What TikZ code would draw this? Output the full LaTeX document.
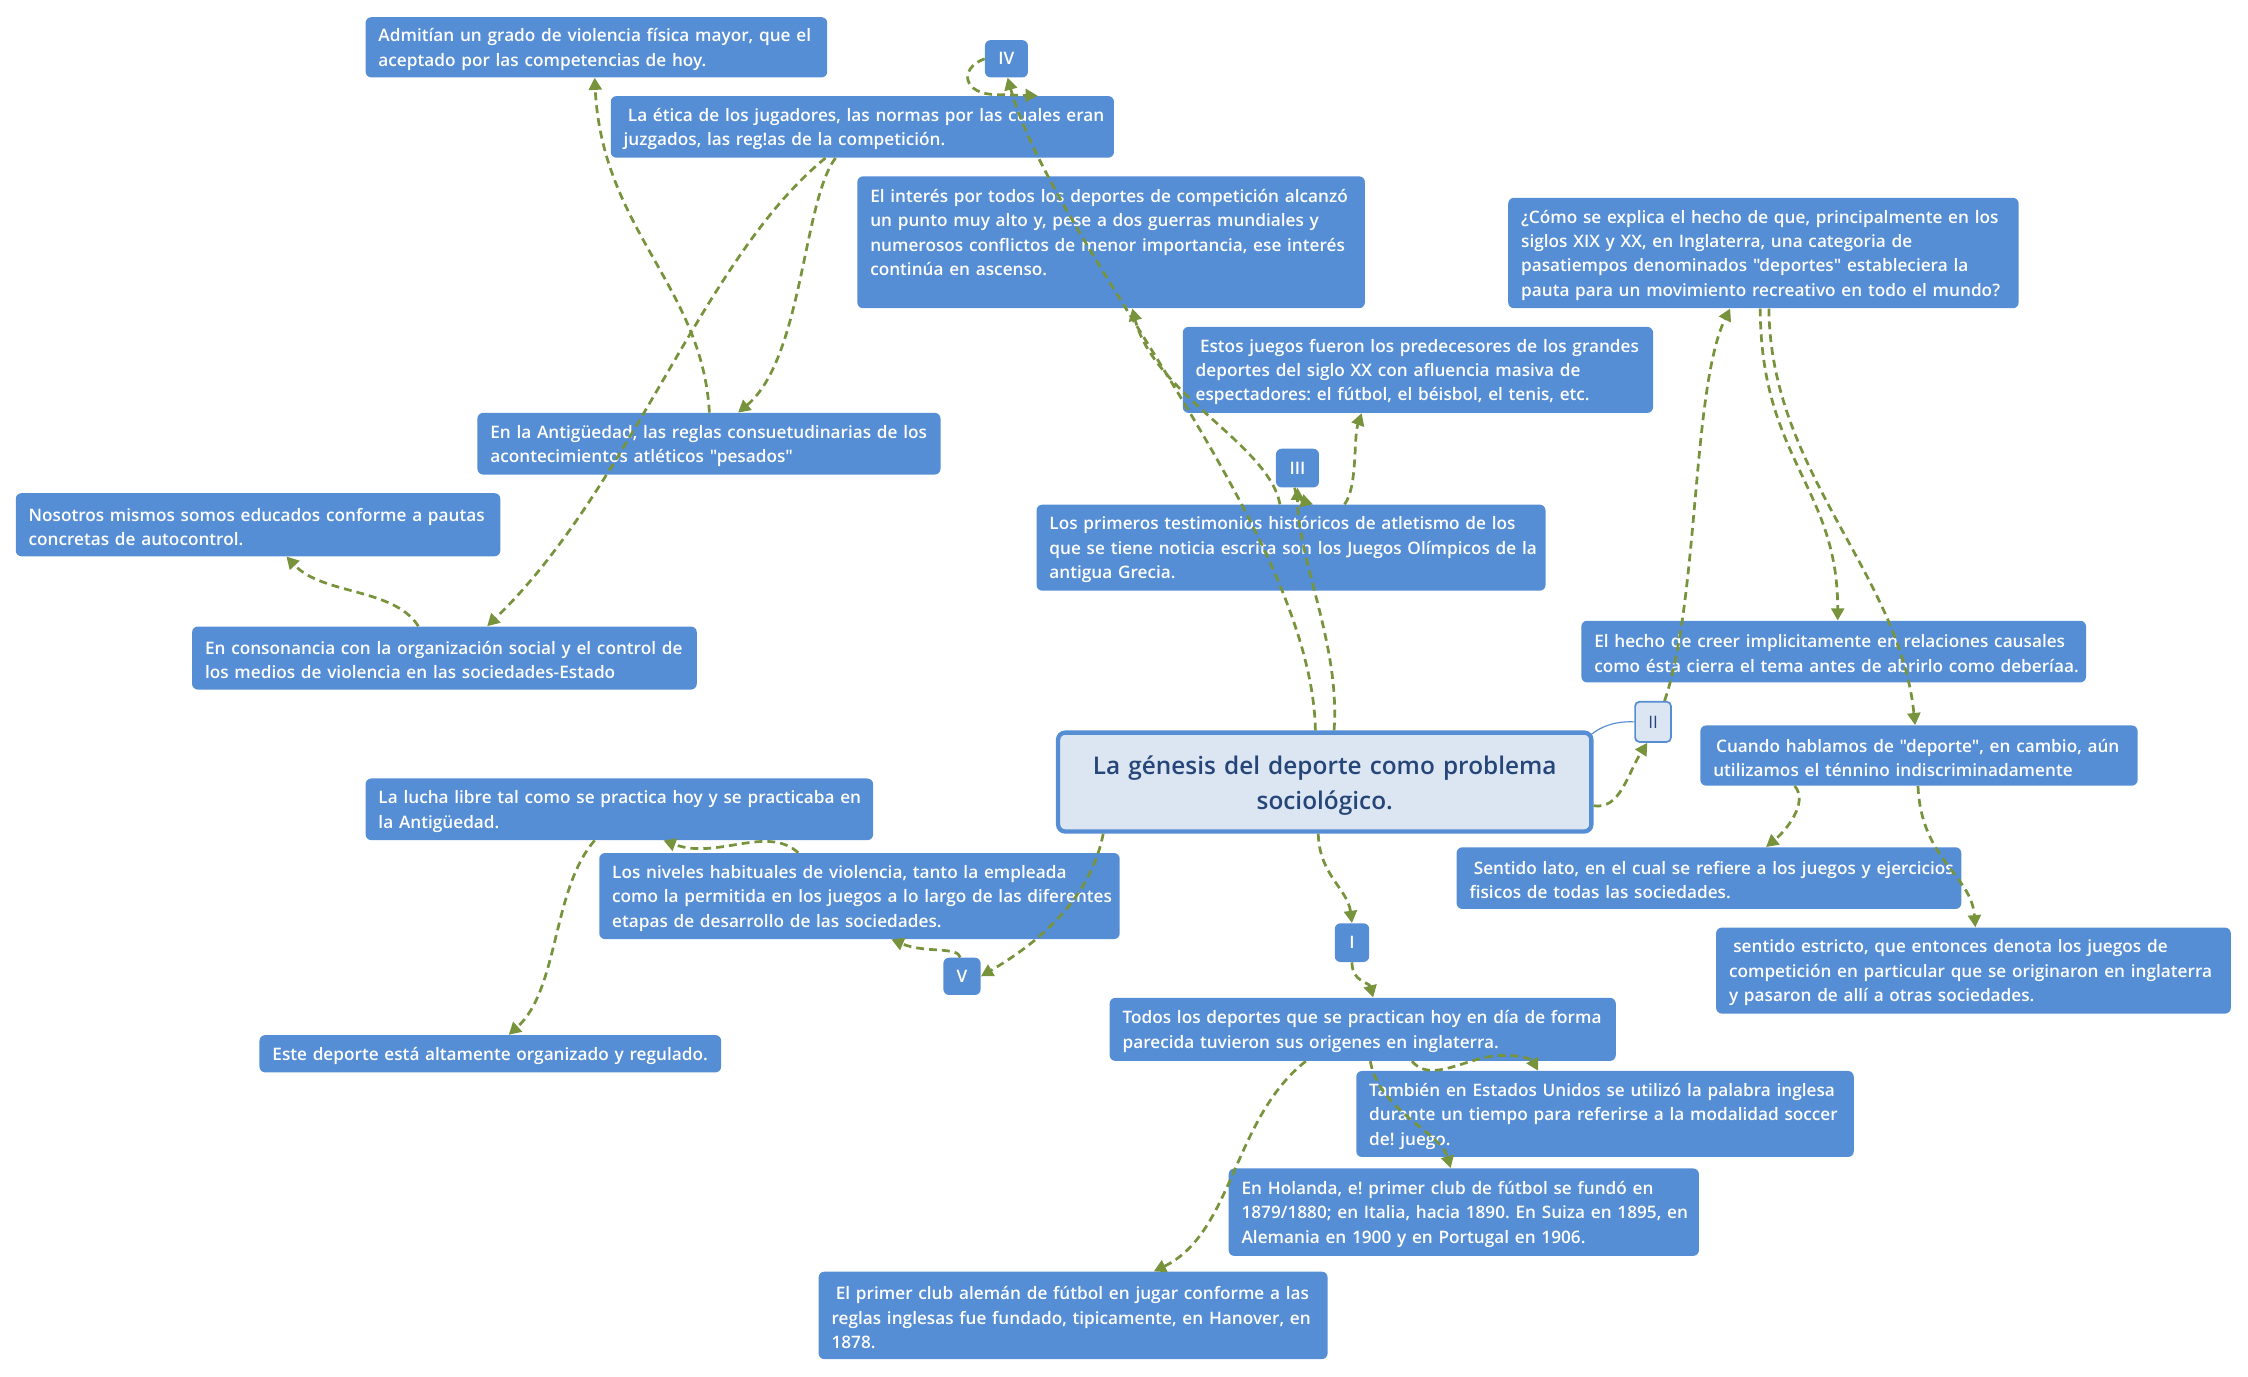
\documentclass[tikz,border=0pt]{standalone}
\usepackage{fontspec}
\IfFontExistsTF{Open Sans SemiBold}{\setmainfont{Open Sans SemiBold}[Ligatures=TeXOff]}{%
  \IfFontExistsTF{Open Sans Semibold}{\setmainfont{Open Sans Semibold}[Ligatures=TeXOff]}{\setmainfont{Open Sans}[Ligatures=TeXOff,UprightFeatures={FakeBold=0.8}]}}
\newfontfamily\lightfont{Open Sans}
\usetikzlibrary{arrows.meta}
\definecolor{boxblue}{RGB}{85,142,213}
\definecolor{paleblue}{RGB}{220,230,242}
\definecolor{navy}{RGB}{38,70,122}
\definecolor{linkgreen}{RGB}{119,147,60}
\newcommand\tx[1]{\raisebox{-1.5pt}[\height][\depth]{#1}}
\newcommand\ttl[1]{\raisebox{-2.5pt}[\height][\depth]{#1}}
\frenchspacing
\tikzset{
  box/.style={fill=boxblue, draw=none, rounded corners=4pt, text=white, align=left,
    inner xsep=9pt, inner ysep=0pt, font=\fontsize{12}{17}\selectfont},
  numbox/.style={fill=boxblue, draw=none, rounded corners=4pt, text=white, inner sep=0pt,
    font=\fontsize{12}{17}\selectfont},
  conn/.style={draw=linkgreen, line width=1.9pt, dash pattern=on 5.5pt off 3.5pt,
    -{Triangle[length=8.5pt,width=9pt]}},
}
\begin{document}
\begin{tikzpicture}[x=1pt,y=-1pt]
\useasboundingbox (0,0) rectangle (1568,960);

% ---- nodes ----
\node[box, minimum width=322pt, minimum height=42pt, text width=304pt] (admit) at (416,33)
  {\tx{Admitían un grado de violencia física mayor, que el}\\\tx{aceptado por las competencias de hoy.}};
\node[numbox, minimum width=30pt, minimum height=26pt] (IV) at (702,41) {IV};
\node[box, minimum width=351pt, minimum height=43pt, text width=333pt] (etica) at (601.5,88.5)
  {\tx{\hspace*{3pt}La ética de los jugadores, las normas por las cuales eran}\\\tx{juzgados, las reg!as de la competición.}};
\node[box, minimum width=354pt, minimum height=92pt, text width=336pt] (interes) at (775,169)
  {\tx{El interés por todos los deportes de competición alcanzó}\\\tx{un punto muy alto y, pese a dos guerras mundiales y}\\\tx{numerosos conflictos de menor importancia, ese interés}\\\tx{continúa en ascenso.}\\\mbox{}};
\node[box, minimum width=356pt, minimum height=77pt, text width=338pt] (como) at (1230,176.5)
  {\tx{¿Cómo se explica el hecho de que, principalmente en los}\\\tx{siglos XIX y XX, en Inglaterra, una categoria de}\\\tx{pasatiempos denominados "deportes" estableciera la}\\\tx{pauta para un movimiento recreativo en todo el mundo?}};
\node[box, minimum width=328pt, minimum height=60pt, text width=310pt] (estos) at (989,258)
  {\tx{\hspace*{3pt}Estos juegos fueron los predecesores de los grandes}\\\tx{deportes del siglo XX con afluencia masiva de}\\\tx{espectadores: el fútbol, el béisbol, el tenis, etc.}};
\node[box, minimum width=323pt, minimum height=43pt, text width=305pt] (antig) at (494.5,309.5)
  {\tx{En la Antigüedad, las reglas consuetudinarias de los}\\\tx{acontecimientos atléticos "pesados"}};
\node[numbox, minimum width=30pt, minimum height=27pt] (III) at (905,326.5) {III};
\node[box, minimum width=338pt, minimum height=44pt, text width=320pt] (nosotros) at (180,366)
  {\tx{Nosotros mismos somos educados conforme a pautas}\\\tx{concretas de autocontrol.}};
\node[box, minimum width=355pt, minimum height=60pt, text width=337pt] (primeros) at (900.5,382)
  {\tx{Los primeros testimonios históricos de atletismo de los}\\\tx{que se tiene noticia escrita son los Juegos Olímpicos de la}\\\tx{antigua Grecia.}};
\node[box, minimum width=352pt, minimum height=44pt, text width=334pt] (conson) at (310,459)
  {\tx{En consonancia con la organización social y el control de}\\\tx{los medios de violencia en las sociedades-Estado}};
\node[box, minimum width=352pt, minimum height=43pt, text width=334pt] (hecho) at (1279,454.5)
  {\tx{El hecho de creer implicitamente en relaciones causales}\\\tx{como ésta cierra el tema antes de abrirlo como deberíaa.}};
\node[fill=paleblue, draw=boxblue, line width=1.2pt, rounded corners=3pt, inner sep=0pt,
  minimum width=25pt, minimum height=28pt, text=navy, font=\lightfont\fontsize{12}{14}\selectfont] (II) at (1153,503.5) {II};
\node[fill=paleblue, draw=boxblue, line width=3pt, rounded corners=5pt, inner sep=0pt,
  minimum width=372pt, minimum height=69pt, align=center, text width=372pt, text=navy,
  font=\fontsize{17}{24}\selectfont] (central) at (924,545.5)
  {\ttl{La génesis del deporte como problema}\\\ttl{sociológico.}};
\node[box, minimum width=305pt, minimum height=42pt, text width=287pt] (cuando) at (1338.5,527)
  {\tx{\hspace*{2pt}Cuando hablamos de "deporte", en cambio, aún}\\\tx{utilizamos el ténnino indiscriminadamente}};
\node[box, minimum width=354pt, minimum height=43pt, text width=336pt] (lucha) at (432,564.5)
  {\tx{La lucha libre tal como se practica hoy y se practicaba en}\\\tx{la Antigüedad.}};
\node[box, minimum width=363pt, minimum height=60pt, text width=345pt] (niveles) at (599.5,625)
  {\tx{Los niveles habituales de violencia, tanto la empleada}\\\tx{como la permitida en los juegos a lo largo de las diferentes}\\\tx{etapas de desarrollo de las sociedades.}};
\node[box, minimum width=352pt, minimum height=43pt, text width=334pt] (lato) at (1192,612.5)
  {\tx{\hspace*{3pt}Sentido lato, en el cual se refiere a los juegos y ejercicios}\\\tx{fisicos de todas las sociedades.}};
\node[numbox, minimum width=24pt, minimum height=27pt] (I) at (943,657.5) {I};
\node[box, minimum width=359pt, minimum height=60pt, text width=341pt] (estricto) at (1376.5,677)
  {\tx{\hspace*{3pt}sentido estricto, que entonces denota los juegos de}\\\tx{competición en particular que se originaron en inglaterra}\\\tx{y pasaron de allí a otras sociedades.}};
\node[numbox, minimum width=26pt, minimum height=26pt] (V) at (671,681) {V};
\node[box, minimum width=353pt, minimum height=44pt, text width=335pt] (todos) at (950.5,718)
  {\tx{Todos los deportes que se practican hoy en día de forma}\\\tx{parecida tuvieron sus origenes en inglaterra.}};
\node[box, minimum width=322pt, minimum height=26pt, text width=304pt] (este) at (342,735)
  {\tx{Este deporte está altamente organizado y regulado.}};
\node[box, minimum width=347pt, minimum height=60pt, text width=329pt] (tambien) at (1119.5,777)
  {\tx{También en Estados Unidos se utilizó la palabra inglesa}\\\tx{durante un tiempo para referirse a la modalidad soccer}\\\tx{de! juego.}};
\node[box, minimum width=328pt, minimum height=61pt, text width=310pt] (holanda) at (1021,845.5)
  {\tx{En Holanda, e! primer club de fútbol se fundó en}\\\tx{1879/1880; en Italia, hacia 1890. En Suiza en 1895, en}\\\tx{Alemania en 1900 y en Portugal en 1906.}};
\node[box, minimum width=355pt, minimum height=61pt, text width=337pt] (aleman) at (748.5,917.5)
  {\tx{\hspace*{3pt}El primer club alemán de fútbol en jugar conforme a las}\\\tx{reglas inglesas fue fundado, tipicamente, en Hanover, en}\\\tx{1878.}};

% ---- connectors ----
\draw[boxblue, line width=0.8pt] ([xshift=-3pt,yshift=-4pt]central.north east) .. controls (1118,505) and (1130,503) .. (II.west);

\draw[conn] ([xshift=181pt]central.north west) .. controls (915,370) and (735,170) .. ([xshift=16pt]IV.south west);
\draw[conn] ([xshift=194pt]central.north west) .. controls (935,450) and (905,390) .. (III.south);
\draw[conn] ([xshift=-2pt]III.south) .. controls (904,348) and (910,350) .. ([xshift=193pt]primeros.north west);
\draw[conn] ([xshift=170pt]primeros.north west) .. controls (885,310) and (805,275) .. ([xshift=192pt]interes.south west);
\draw[conn] ([xshift=215pt]primeros.north west) .. controls (947,340) and (944,305) .. ([xshift=125pt]estos.south west);
\draw[conn] (IV.west) .. controls (668,48) and (672,66) .. (695,66) -- ([xshift=298pt]etica.north west);
\draw[conn] ([xshift=157pt]etica.south west) .. controls (560,140) and (560,250) .. ([xshift=182pt]antig.north west);
\draw[conn] ([xshift=150pt]etica.south west) .. controls (490,180) and (440,340) .. ([xshift=206pt]conson.north west);
\draw[conn] ([xshift=162pt]antig.north west) .. controls (490,200) and (420,160) .. ([xshift=160pt]admit.south west);
\draw[conn] ([xshift=158pt]conson.north west) .. controls (275,410) and (225,415) .. ([xshift=189pt]nosotros.south west);
\draw[conn] ([xshift=33pt]central.south west) .. controls (760,630) and (720,660) .. (V.east);
\draw[conn] ([xshift=12pt]V.north west) .. controls (668,660) and (645,665) .. ([xshift=204pt]niveles.south west);
\draw[conn] ([xshift=139pt]niveles.north west) .. controls (535,575) and (500,600) .. ([xshift=208pt]lucha.south west);
\draw[conn] ([xshift=160pt]lucha.south west) .. controls (385,620) and (390,690) .. ([xshift=174pt]este.north west);
\draw[conn] ([xshift=183pt]central.south west) .. controls (920,610) and (940,620) .. (I.north);
\draw[conn] (I.south) .. controls (943,685) and (955,685) .. ([xshift=184pt]todos.north west);
\draw[conn] ([xshift=211pt]todos.south west) .. controls (995,752) and (1010,745) .. (1030,739) .. controls (1050,733) and (1068,738) .. ([xshift=127pt]tambien.north west);
\draw[conn] ([xshift=182pt]todos.south west) .. controls (962,775) and (1005,790) .. ([xshift=155pt]holanda.north west);
\draw[conn] ([xshift=137pt]todos.south west) .. controls (860,780) and (860,860) .. ([xshift=234pt]aleman.north west);
\draw[conn] ([yshift=-16.5pt]central.east) .. controls (1130,565) and (1135,540) .. ([xshift=-4pt]II.south);
\draw[conn] ([xshift=8pt]II.north) .. controls (1185,420) and (1180,270) .. ([xshift=155pt]como.south west);
\draw[conn] ([xshift=176pt]como.south west) .. controls (1228,320) and (1282,340) .. ([xshift=179pt]hecho.north west);
\draw[conn] ([xshift=182pt]como.south west) .. controls (1235,330) and (1325,400) .. ([xshift=150pt]cuando.north west);
\draw[conn] ([xshift=66pt]cuando.south west) .. controls (1262,560) and (1245,580) .. ([xshift=216pt]lato.north west);
\draw[conn] ([xshift=152pt]cuando.south west) .. controls (1340,600) and (1375,610) .. ([xshift=181pt]estricto.north west);
\end{tikzpicture}
\end{document}
